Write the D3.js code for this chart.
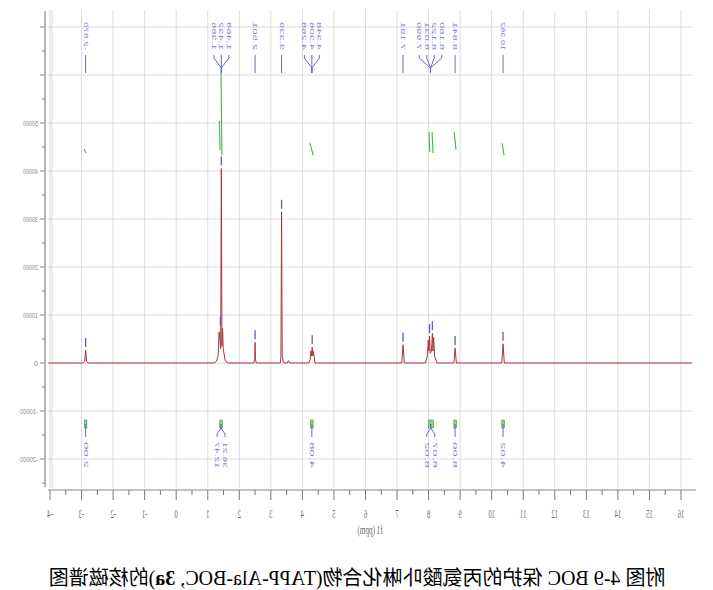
<!DOCTYPE html>
<html><head><meta charset="utf-8">
<script src="https://cdn.jsdelivr.net/npm/d3@7"></script>
<style>body{margin:0;background:#fff}svg{display:block}</style>
</head><body>
<svg id="c" width="713" height="590"></svg>
<script>
// ---------- data ----------
const xTickValues = d3.range(-4, 17, 1);            // ppm ticks
const xMinorValues = d3.range(-4, 16.5, 0.5);
const yTickValues = [-20000,-10000,0,10000,20000,30000,40000,50000,60000,70000];
const yLabelValues = [-20000,-10000,0,10000,20000,30000,40000,50000];

// spectrum: [ppm, intensity]
const spectrum = [
 [-4.05,0],[-2.95,0],[-2.90,300],[-2.87,2700],[-2.84,300],[-2.80,0],
 [1.20,0],[1.28,400],[1.33,1500],[1.36,6500],[1.38,5200],[1.41,3000],[1.43,40500],[1.45,3500],[1.47,7200],[1.49,3000],[1.55,600],[1.62,0],
 [2.46,0],[2.49,800],[2.50,4300],[2.51,800],[2.54,0],
 [3.30,0],[3.32,1500],[3.34,31500],[3.36,1500],[3.40,0],[3.52,0],[3.56,500],[3.60,0],
 [4.20,0],[4.25,800],[4.27,2500],[4.29,1500],[4.31,3300],[4.33,1500],[4.35,2400],[4.40,0],
 [7.15,0],[7.19,3800],[7.23,0],
 [7.90,0],[7.96,1500],[7.99,4800],[8.01,2500],[8.03,5600],[8.05,2000],[8.09,2500],[8.12,6200],[8.14,2500],[8.16,5300],[8.19,1500],[8.26,0],
 [8.80,0],[8.84,3100],[8.88,0],
 [10.32,0],[10.36,4000],[10.40,0],
 [16.35,0]
];

// peak labels at the top: group position and label texts
const peakGroups = [
 {at:-2.87, labels:["-2.870"]},
 {at:1.43, labels:["1.468","1.432","1.366"]},
 {at:2.50, labels:["2.501"]},
 {at:3.34, labels:["3.339"]},
 {at:4.30, labels:["4.348","4.306","4.268"]},
 {at:7.19, labels:["7.191"]},
 {at:8.06, labels:["8.160","8.122","8.031","7.990"]},
 {at:8.84, labels:["8.841"]},
 {at:10.36, labels:["10.362"]}
];

// peak-pick markers: [ppm, intensity]
const pickMarks = [[-2.87,2700],[1.43,40500],[1.40,7200],[2.50,4300],[3.34,31500],[4.31,3300],[7.19,3800],[8.03,5600],[8.12,6200],[8.84,3100],[10.36,4000]];

// integral curves: [ppmStart, valueStart, ppmEnd, valueEnd]
const integralCurves = [
 [-2.92,44600,-2.86,43750],
 [1.37,50400,1.39,44400],
 [1.42,60400,1.45,43300],
 [4.24,45800,4.34,43300],
 [8.01,48100,8.04,43950],
 [8.11,48100,8.14,43750],
 [8.81,48100,8.87,44400],
 [10.33,45800,10.39,43300]
];

// integral marks at the bottom: centre ppm, ppm range, values
const integralGroups = [
 {at:-2.87, from:-2.91, to:-2.83, values:["2.00"]},
 {at:1.42, from:1.38, to:1.46, values:["36.21","12.47"]},
 {at:4.30, from:4.26, to:4.34, values:["4.08"]},
 {at:8.07, from:7.99, to:8.15, values:["8.07","8.02"]},
 {at:8.84, from:8.80, to:8.88, values:["8.00"]},
 {at:10.36, from:10.32, to:10.40, values:["4.02"]}
];

const caption1 = "附图 4-9 BOC 保护的丙氨酸卟啉化合物(TAPP-Ala-BOC, ";
const caption2 = "3a";
const caption3 = ")的核磁谱图";

// ---------- drawing (drawn normally, then mirrored as in the reference) ----------
const svg = d3.select("#c");
const g = svg.append("g").attr("transform","translate(713,0) scale(-1,1)");

const x = d3.scaleLinear().domain([16,-4]).range([32,663]);
const y = d3.scaleLinear().domain([-20000,50000]).range([459,123]);
const plotL = 21, plotR = 665, plotT = 10, plotB = 488;

// grid
g.append("g").selectAll("line").data(xTickValues).join("line")
 .attr("x1",d=>x(d)).attr("x2",d=>x(d)).attr("y1",plotT).attr("y2",plotB)
 .attr("stroke","#dcdcdc").attr("stroke-width",1);
g.append("g").selectAll("line").data(yTickValues).join("line")
 .attr("x1",plotL).attr("x2",plotR).attr("y1",d=>y(d)).attr("y2",d=>y(d))
 .attr("stroke","#dcdcdc").attr("stroke-width",1);
g.append("line").attr("x1",plotR-4).attr("x2",plotR-4).attr("y1",plotT).attr("y2",plotB).attr("stroke","#dcdcdc");

// y axis (right side before mirroring)
const ya = 668;
g.append("line").attr("x1",ya).attr("x2",ya).attr("y1",11).attr("y2",487).attr("stroke","#888").attr("stroke-width",1.2);
g.append("g").selectAll("line").data(d3.range(-25000,75000,5000)).join("line")
 .attr("x1",ya).attr("x2",d=>d%10000===0?ya+5:ya+3).attr("y1",d=>y(d)).attr("y2",d=>y(d))
 .attr("stroke","#888");
g.append("g").selectAll("text").data(yLabelValues).join("text")
 .attr("x",ya+7).attr("y",d=>y(d)).attr("dy","0.35em")
 .attr("font-family","Liberation Sans, Arial").attr("font-size",8).attr("fill","#8a8a8a")
 .attr("textLength",d=>d<0?18:(d===0?4:15)).attr("lengthAdjust","spacingAndGlyphs")
 .text(d=>d);

// x axis
const xa = 490;
g.append("line").attr("x1",17).attr("x2",plotR).attr("y1",xa).attr("y2",xa).attr("stroke","#888").attr("stroke-width",1.2);
g.append("g").selectAll("line").data(xMinorValues).join("line")
 .attr("x1",d=>x(d)).attr("x2",d=>x(d)).attr("y1",xa).attr("y2",d=>Number.isInteger(d)?xa+10:xa+5)
 .attr("stroke","#777");
g.append("g").selectAll("text").data(xTickValues).join("text")
 .attr("transform",d=>`translate(${x(d)},518) scale(0.55,1)`)
 .attr("text-anchor","middle").attr("font-family","Liberation Serif, serif").attr("font-size",12).attr("fill","#6a6a6a")
 .text(d=>d);
g.append("text").attr("transform","translate(343,534) scale(0.6,1)").attr("text-anchor","middle")
 .attr("font-family","Liberation Serif, serif").attr("font-size",12).attr("fill","#6a6a6a").text("f1 (ppm)");

// integral curves
g.append("g").selectAll("line").data(integralCurves).join("line")
 .attr("x1",d=>x(d[0])).attr("y1",d=>y(d[1])).attr("x2",d=>x(d[2])).attr("y2",d=>y(d[3]))
 .attr("stroke","#4caf50").attr("stroke-width",1.1);

// spectrum
g.append("path").datum(spectrum)
 .attr("d",d3.line().x(d=>x(d[0])).y(d=>y(d[1])))
 .attr("fill","none").attr("stroke","#a8383a").attr("stroke-width",1);

// peak-pick markers
g.append("g").selectAll("line").data(pickMarks).join("line")
 .attr("x1",d=>x(d[0])).attr("x2",d=>x(d[0])).attr("y1",d=>y(d[1])-3).attr("y2",d=>y(d[1])-12)
 .attr("stroke","#5a5acf").attr("stroke-width",1.3);

// peak labels at top
const blue = "#6a6ac0";
const spacing = 7.5;
peakGroups.forEach(pg=>{
  const cx = x(pg.at);
  const n = pg.labels.length;
  pg.labels.forEach((t,i)=>{
    const lx = cx + (i-(n-1)/2)*spacing;
    g.append("text").attr("transform",`translate(${lx+2},50) rotate(-90)`)
     .attr("font-family","Liberation Sans, Arial").attr("font-size",6).attr("fill","#8080cc")
     .attr("textLength",28).attr("lengthAdjust","spacingAndGlyphs").text(t);
    if(n===1){
      g.append("line").attr("x1",cx).attr("x2",cx).attr("y1",55).attr("y2",73).attr("stroke",blue);
    } else {
      g.append("path").attr("d",`M${lx},55 L${lx},58 L${cx},68 L${cx},73`).attr("fill","none").attr("stroke",blue);
    }
  });
});

// integral marks at bottom
integralGroups.forEach(ig=>{
  const cx = x(ig.at);
  const x0 = Math.min(x(ig.from),x(ig.to)), x1 = Math.max(x(ig.from),x(ig.to));
  g.append("rect").attr("x",x0).attr("y",420).attr("width",Math.max(2.5,x1-x0)).attr("height",8)
   .attr("fill","#8fd08f").attr("stroke","#3d9a3d").attr("stroke-width",0.6);
  const n = ig.values.length;
  ig.values.forEach((t,i)=>{
    const lx = cx + (i-(n-1)/2)*8;
    if(n===1){
      g.append("line").attr("x1",cx).attr("x2",cx).attr("y1",424).attr("y2",437).attr("stroke",blue);
    } else {
      g.append("path").attr("d",`M${cx},424 L${cx},428 L${lx},434 L${lx},437`).attr("fill","none").attr("stroke",blue);
    }
    g.append("text").attr("transform",`translate(${lx+2},442) rotate(-90)`).attr("text-anchor","end")
     .attr("font-family","Liberation Sans, Arial").attr("font-size",6).attr("fill","#8080cc")
     .attr("textLength",26).attr("lengthAdjust","spacingAndGlyphs").text(t);
  });
});

// caption
const cap = g.append("text").attr("x",356).attr("y",585).attr("text-anchor","middle")
 .attr("font-family","Liberation Serif, 'Noto Sans CJK SC', serif").attr("font-size",20).attr("fill","#000");
cap.append("tspan").text(caption1);
cap.append("tspan").attr("font-weight","bold").text(caption2);
cap.append("tspan").text(caption3);
</script>
</body></html>
